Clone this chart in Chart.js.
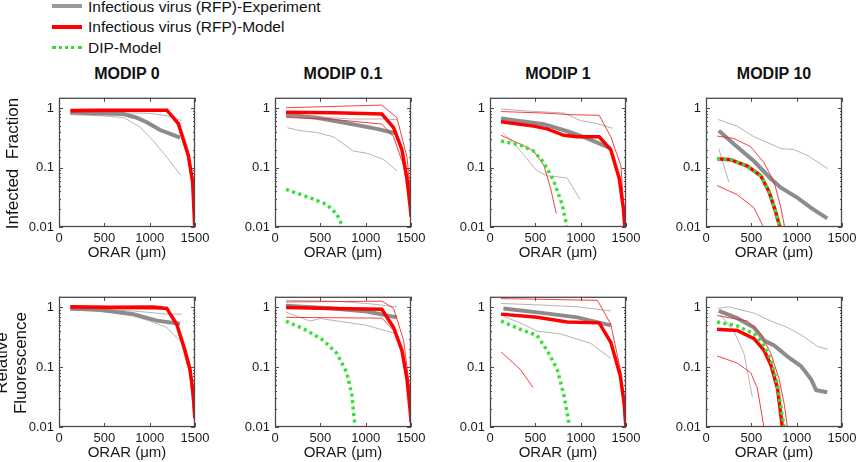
<!DOCTYPE html>
<html>
<head>
<meta charset="utf-8">
<script src="https://cdn.jsdelivr.net/npm/chart.js@4.4.1/dist/chart.umd.min.js"></script>
<style>
  body { margin: 0; background: #fff; font-family: "Liberation Sans", Arial, sans-serif; color: #111; }
  #fig { position: relative; width: 860px; height: 462px; overflow: hidden; background: #fff; }
  #fig canvas { position: absolute; }
  .key { position: absolute; left: 52px; width: 30px; height: 0; }
  .keytxt { position: absolute; left: 88px; font-size: 15.5px; line-height: 18px; white-space: nowrap; }
  .title { position: absolute; width: 136px; text-align: center; font-weight: bold; font-size: 16px; line-height: 18px; white-space: nowrap; }
  .ylab { position: absolute; text-align: center; font-size: 17px; white-space: nowrap; transform: rotate(-90deg); }
</style>
</head>
<body>
<div id="fig">
  <div class="key" style="top:4px; border-top:4px solid #9a9a9a;"></div>
  <div class="keytxt" style="top:-2px;">Infectious virus (RFP)-Experiment</div>
  <div class="key" style="top:25px; border-top:4px solid #ff0000;"></div>
  <div class="keytxt" style="top:18px;">Infectious virus (RFP)-Model</div>
  <div class="key" style="top:46px; border-top:3px dotted #33dd33;"></div>
  <div class="keytxt" style="top:39px;">DIP-Model</div>
</div>

<script>
// Axis ranges and labels
const modipLabels = ["MODIP 0", "MODIP 0.1", "MODIP 1", "MODIP 10"];
const rowLabels = [["Infected  Fraction"], ["Relative", "Fluorescence"]];
const xTicks = [0, 500, 1000, 1500];
const yTicks = [0.01, 0.1, 1];
const xTitle = "ORAR (\u03bcm)";

// ---- Infected fraction (row 1), points are [ORAR um, value] ----
// MODIP 0
const ifM0Exp = [[125, 0.85], [400, 0.82], [711, 0.80], [850, 0.70], [968, 0.58], [1115, 0.43], [1250, 0.36], [1335, 0.32]];
const ifM0ExpA = [[125, 0.80], [455, 0.85], [1005, 0.82], [1188, 0.75], [1353, 0.62]];
const ifM0ExpB = [[125, 0.78], [455, 0.75], [711, 0.70], [895, 0.48], [1042, 0.28], [1188, 0.15], [1346, 0.074]];
const ifM0Model = [[125, 0.92], [400, 0.93], [800, 0.93], [1190, 0.93], [1317, 0.55], [1427, 0.16], [1474, 0.057], [1500, 0.008]];
const ifM0ModelA = [[125, 0.86], [1190, 0.90], [1310, 0.52], [1420, 0.15], [1480, 0.04], [1490, 0.008]];

// MODIP 0.1
const ifM01Exp = [[122, 0.78], [461, 0.69], [829, 0.55], [1124, 0.45], [1327, 0.38]];
const ifM01ExpA = [[122, 0.80], [461, 0.72], [829, 0.66], [1180, 0.66], [1345, 0.64]];
const ifM01ExpB = [[136, 0.47], [276, 0.42], [461, 0.39], [645, 0.33], [866, 0.19], [1013, 0.175], [1198, 0.137], [1345, 0.088]];
const ifM01Model = [[122, 0.86], [645, 0.84], [1179, 0.80], [1308, 0.47], [1400, 0.2], [1456, 0.065], [1492, 0.021], [1500, 0.015]];
const ifM01ModelA = [[122, 1.02], [1179, 1.13], [1345, 0.69], [1456, 0.15], [1492, 0.04], [1500, 0.02]];
const ifM01ModelB = [[122, 0.70], [645, 0.65], [1179, 0.54], [1308, 0.33], [1419, 0.107], [1485, 0.024], [1500, 0.015]];
const ifM01Dip = [[122, 0.043], [387, 0.031], [571, 0.024], [682, 0.0165], [755, 0.0095]];

// MODIP 1
const ifM1Exp = [[122, 0.67], [593, 0.54], [852, 0.41], [1074, 0.31], [1333, 0.21]];
const ifM1ExpA = [[122, 0.97], [405, 0.90], [815, 0.83], [1000, 0.62], [1185, 0.55], [1352, 0.46]];
const ifM1ExpB = [[141, 0.39], [296, 0.225], [519, 0.088], [630, 0.073], [852, 0.067], [993, 0.029]];
const ifM1Model = [[122, 0.59], [481, 0.50], [630, 0.45], [815, 0.35], [963, 0.33], [1204, 0.33], [1333, 0.2], [1426, 0.065], [1470, 0.021], [1492, 0.008]];
const ifM1ModelA = [[122, 0.88], [593, 0.83], [889, 0.78], [1204, 0.76], [1333, 0.33], [1444, 0.107], [1495, 0.008]];
const ifM1ModelB = [[122, 0.35], [333, 0.25], [481, 0.19], [593, 0.11], [667, 0.046], [730, 0.017]];
const ifM1Dip = [[122, 0.28], [333, 0.24], [481, 0.19], [593, 0.122], [704, 0.059], [796, 0.024], [852, 0.0095]];

// MODIP 10
const ifM10Exp = [[141, 0.42], [307, 0.25], [530, 0.128], [715, 0.065], [826, 0.046], [1011, 0.031], [1159, 0.021], [1337, 0.014]];
const ifM10ExpA = [[130, 0.65], [344, 0.5], [530, 0.33], [826, 0.21], [974, 0.2], [1122, 0.16], [1344, 0.096]];
const ifM10ExpB = [[141, 0.21], [252, 0.057]];
const ifM10Model = [[122, 0.141], [270, 0.136], [456, 0.106], [604, 0.073], [696, 0.039], [759, 0.02], [819, 0.0095]];
const ifM10ModelA = [[122, 0.34], [307, 0.31], [493, 0.225], [641, 0.12], [752, 0.057], [826, 0.021], [870, 0.0095]];
const ifM10ModelB = [[122, 0.05], [344, 0.035], [530, 0.021], [641, 0.0095]];
const ifM10Dip = [[122, 0.141], [270, 0.136], [456, 0.106], [604, 0.073], [696, 0.039], [759, 0.02], [819, 0.0095]];

// ---- Relative fluorescence (row 2) ----
// MODIP 0
const rfM0Exp = [[125, 0.96], [455, 0.90], [822, 0.77], [1078, 0.60], [1335, 0.53]];
const rfM0ExpA = [[125, 0.97], [822, 0.87], [1188, 0.77], [1353, 0.77]];
const rfM0ExpB = [[125, 0.9], [455, 0.88], [822, 0.71], [1005, 0.59], [1188, 0.46], [1353, 0.26]];
const rfM0Model = [[125, 1.02], [565, 1.0], [1042, 1.01], [1188, 0.96], [1298, 0.52], [1390, 0.19], [1445, 0.092], [1482, 0.034], [1498, 0.014]];
const rfM0ModelA = [[125, 0.95], [1188, 0.93], [1300, 0.5], [1440, 0.08], [1495, 0.012]];

// MODIP 0.1
const rfM01Exp = [[122, 1.06], [645, 0.96], [1013, 0.85], [1345, 0.68]];
const rfM01ExpA = [[122, 1.31], [645, 1.27], [1013, 1.16], [1345, 1.02]];
const rfM01ExpB = [[122, 0.83], [387, 0.59], [497, 0.65], [829, 0.55], [1013, 0.5], [1161, 0.43], [1345, 0.36]];
const rfM01Model = [[122, 0.99], [645, 0.96], [1179, 0.93], [1308, 0.46], [1400, 0.19], [1456, 0.063], [1492, 0.018], [1500, 0.012]];
const rfM01ModelA = [[122, 1.23], [1179, 1.27], [1308, 0.96], [1419, 0.28], [1485, 0.044], [1500, 0.01]];
const rfM01ModelB = [[122, 0.68], [1179, 0.66], [1345, 0.36], [1437, 0.117], [1492, 0.016]];
const rfM01Dip = [[122, 0.59], [350, 0.41], [534, 0.28], [682, 0.17], [792, 0.081], [848, 0.034], [884, 0.0095]];

// MODIP 1
const rfM1Exp = [[148, 0.96], [593, 0.8], [963, 0.68], [1333, 0.5]];
const rfM1ExpA = [[122, 1.16], [593, 1.09], [963, 1.02], [1333, 0.87]];
const rfM1ExpB = [[148, 0.71], [370, 0.52], [519, 0.4], [778, 0.36], [1111, 0.25], [1333, 0.14]];
const rfM1Model = [[122, 0.77], [519, 0.68], [852, 0.57], [1204, 0.55], [1333, 0.26], [1437, 0.072], [1481, 0.024], [1500, 0.0095]];
const rfM1ModelA = [[122, 1.4], [1185, 1.31], [1333, 0.52], [1444, 0.081], [1489, 0.0095]];
const rfM1ModelB = [[122, 0.18], [333, 0.092], [474, 0.046]];
const rfM1Dip = [[122, 0.59], [333, 0.43], [519, 0.34], [630, 0.19], [741, 0.092], [815, 0.034], [881, 0.0095]];

// MODIP 10
const rfM10Exp = [[141, 0.87], [344, 0.66], [530, 0.46], [641, 0.28], [752, 0.23], [900, 0.15], [1048, 0.104], [1159, 0.063], [1215, 0.041], [1337, 0.038]];
const rfM10ExpA = [[130, 0.96], [252, 1.02], [530, 0.8], [715, 0.59], [900, 0.46], [1085, 0.32], [1233, 0.22], [1344, 0.2]];
const rfM10ExpB = [[159, 0.75], [307, 0.4], [419, 0.17], [511, 0.032]];
const rfM10Model = [[122, 0.43], [344, 0.41], [530, 0.3], [641, 0.19], [715, 0.11], [789, 0.044], [844, 0.0095]];
const rfM10ModelA = [[122, 0.73], [456, 0.59], [604, 0.36], [715, 0.17], [807, 0.063], [863, 0.024], [900, 0.0095]];
const rfM10ModelB = [[122, 0.154], [344, 0.117], [493, 0.081], [567, 0.044], [641, 0.0095]];
const rfM10Dip = [[122, 0.57], [344, 0.49], [530, 0.36], [641, 0.23], [715, 0.133], [789, 0.05], [863, 0.0095]];

const panels = [
  { row: 0, col: 0, exp: ifM0Exp, expThin: [ifM0ExpA, ifM0ExpB], model: ifM0Model, modelThin: [ifM0ModelA], dip: null },
  { row: 0, col: 1, exp: ifM01Exp, expThin: [ifM01ExpA, ifM01ExpB], model: ifM01Model, modelThin: [ifM01ModelA, ifM01ModelB], dip: ifM01Dip },
  { row: 0, col: 2, exp: ifM1Exp, expThin: [ifM1ExpA, ifM1ExpB], model: ifM1Model, modelThin: [ifM1ModelA, ifM1ModelB], dip: ifM1Dip },
  { row: 0, col: 3, exp: ifM10Exp, expThin: [ifM10ExpA, ifM10ExpB], model: ifM10Model, modelThin: [ifM10ModelA, ifM10ModelB], dip: ifM10Dip },
  { row: 1, col: 0, exp: rfM0Exp, expThin: [rfM0ExpA, rfM0ExpB], model: rfM0Model, modelThin: [rfM0ModelA], dip: null },
  { row: 1, col: 1, exp: rfM01Exp, expThin: [rfM01ExpA, rfM01ExpB], model: rfM01Model, modelThin: [rfM01ModelA, rfM01ModelB], dip: rfM01Dip },
  { row: 1, col: 2, exp: rfM1Exp, expThin: [rfM1ExpA, rfM1ExpB], model: rfM1Model, modelThin: [rfM1ModelA, rfM1ModelB], dip: rfM1Dip },
  { row: 1, col: 3, exp: rfM10Exp, expThin: [rfM10ExpA, rfM10ExpB], model: rfM10Model, modelThin: [rfM10ModelA, rfM10ModelB], dip: rfM10Dip },
];

// layout of the figure (plot boxes in page pixels)
const colLeft = [59, 275, 490, 706];
const rowTop = [93, 292];
const rowHeight = [134, 135];
const plotW = 136;
const padL = 50, padT = 8, padR = 20, axisH = 35, padB = 10;

Chart.defaults.font.family = '"Liberation Sans", Arial, sans-serif';
Chart.defaults.color = "#1a1a1a";

const isDecade = (v) => Math.abs(Math.log10(v) - Math.round(Math.log10(v))) < 1e-6;

// MATLAB style box with inward ticks
const boxPlugin = {
  id: "box",
  afterDatasetsDraw(chart) {
    const { ctx, chartArea: a, scales } = chart;
    const seg = (x1, y1, x2, y2) => { ctx.beginPath(); ctx.moveTo(x1, y1); ctx.lineTo(x2, y2); ctx.stroke(); };
    ctx.save();
    ctx.strokeStyle = "#4a4a4a";
    ctx.lineWidth = 1;
    scales.x.ticks.forEach((t) => {
      const px = Math.round(scales.x.getPixelForValue(t.value)) + 0.5;
      seg(px, a.bottom, px, a.bottom - 4);
      seg(px, a.top, px, a.top + 4);
    });
    scales.y.ticks.forEach((t) => {
      if (t.value > 1.45) return;
      const len = isDecade(t.value) ? 4 : 2;
      const py = Math.round(scales.y.getPixelForValue(t.value)) + 0.5;
      seg(a.left, py, a.left + len, py);
      seg(a.right, py, a.right - len, py);
    });
    ctx.lineWidth = 1.3;
    ctx.strokeRect(a.left + 0.5, a.top + 0.5, a.right - a.left - 1, a.bottom - a.top - 1);
    ctx.restore();
  },
};

function line(points, color, width, dash) {
  return {
    data: points.map((p) => ({ x: p[0], y: p[1] })),
    borderColor: color,
    borderWidth: width,
    borderDash: dash || [],
    pointRadius: 0,
    tension: 0,
    fill: false,
  };
}

const fig = document.getElementById("fig");

panels.forEach((p) => {
  const h = rowHeight[p.row];
  const canvas = document.createElement("canvas");
  canvas.width = padL + plotW + padR;
  canvas.height = padT + h + axisH + padB;
  canvas.style.left = colLeft[p.col] - padL + "px";
  canvas.style.top = rowTop[p.row] - padT + "px";
  fig.appendChild(canvas);

  // first dataset is drawn on top
  const datasets = [];
  if (p.dip) datasets.push(line(p.dip, "#33e033", 3.5, [3, 3.5]));
  datasets.push(line(p.model, "#ff0000", 3.5));
  p.modelThin.forEach((s) => datasets.push(line(s, "rgba(245,30,30,0.85)", 1)));
  datasets.push(line(p.exp, "#8c8c8c", 4));
  p.expThin.forEach((s) => datasets.push(line(s, "#b4b4b4", 1)));

  new Chart(canvas, {
    type: "line",
    data: { datasets },
    options: {
      responsive: false,
      animation: false,
      events: [],
      layout: { padding: { left: 0, top: padT, right: padR, bottom: padB } },
      plugins: { legend: { display: false }, tooltip: { enabled: false } },
      scales: {
        x: {
          type: "linear",
          min: xTicks[0],
          max: xTicks[xTicks.length - 1],
          afterFit: (s) => { s.height = axisH; },
          afterBuildTicks: (s) => { s.ticks = xTicks.map((v) => ({ value: v })); },
          grid: { display: false, drawTicks: false },
          border: { display: false },
          ticks: { padding: 4, font: { size: 13 }, color: "#1a1a1a", maxRotation: 0, callback: (v) => String(v) },
          title: { display: true, text: xTitle, font: { size: 15 }, color: "#1a1a1a", padding: 0 },
        },
        y: {
          type: "logarithmic",
          min: 0.01,
          max: 1.5,
          afterFit: (s) => { s.width = padL; },
          grid: { display: false, drawTicks: false },
          border: { display: false },
          ticks: {
            autoSkip: false,
            padding: 5,
            font: { size: 13 },
            color: "#1a1a1a",
            callback: (v) => (isDecade(v) && yTicks.includes(Math.pow(10, Math.round(Math.log10(v))))
              ? String(Math.pow(10, Math.round(Math.log10(v)))) : ""),
          },
        },
      },
    },
    plugins: [boxPlugin],
  });
});

// column titles
modipLabels.forEach((txt, i) => {
  const d = document.createElement("div");
  d.className = "title";
  d.textContent = txt;
  d.style.left = colLeft[i] + "px";
  d.style.top = "65px";
  fig.appendChild(d);
});

// row labels (rotated)
rowLabels.forEach((lines, r) => {
  const d = document.createElement("div");
  d.className = "ylab";
  const w = 200, lh = 19, hgt = lines.length * lh;
  const cx = r === 0 ? 12 : 11;
  const cy = rowTop[r] + rowHeight[r] / 2 + 3;
  d.style.width = w + "px";
  d.style.height = hgt + "px";
  d.style.lineHeight = lh + "px";
  d.style.left = cx - w / 2 + "px";
  d.style.top = cy - hgt / 2 + "px";
  d.innerHTML = lines.join("<br>").replace(/  /g, "&nbsp; ");
  fig.appendChild(d);
});
</script>
</body>
</html>
